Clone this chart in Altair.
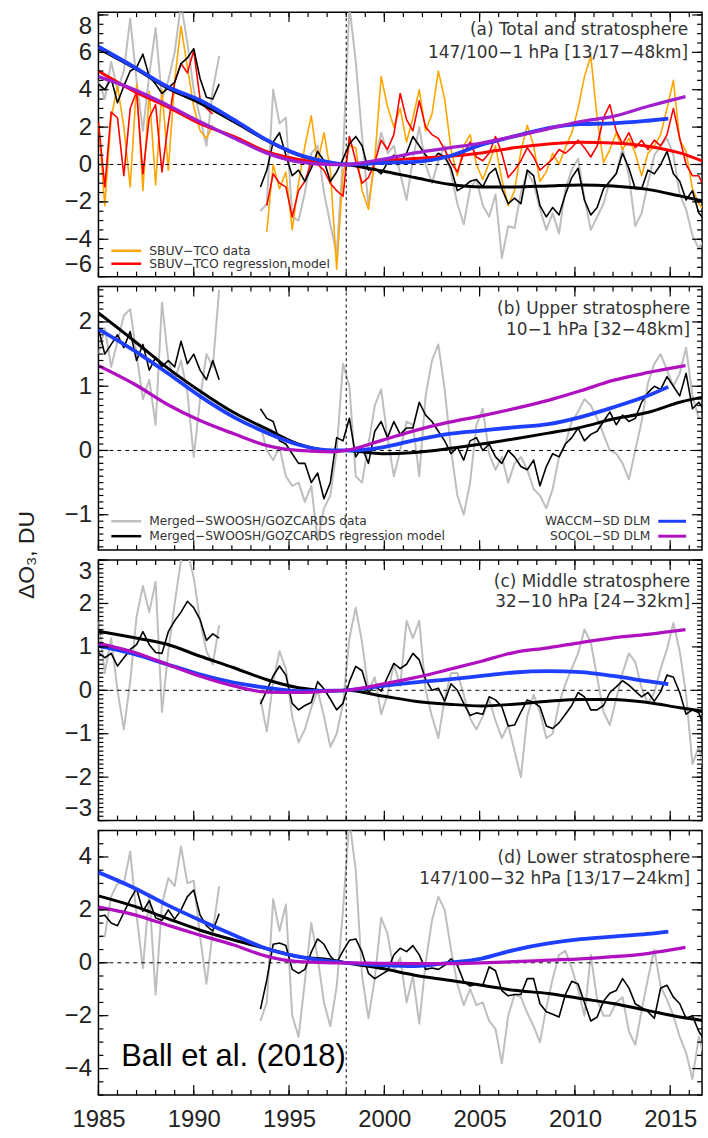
import altair as alt
import pandas as pd

# ---------------------------------------------------------------------------
# Layout constants
# ---------------------------------------------------------------------------
W = 607
STEP = 1.0 / 3.0          # sampling interval of the anomaly series (years)
P1_START = 1985.0         # first record segment
P2_START = 1993.5         # second record segment (after the data gap)
X_DOMAIN = [1985.0, 2016.67]
LABEL_FONT = "Liberation Sans"
NOTE_FONT = "DejaVu Sans"

GRAY = "#BEBEBE"
ORANGE = "#FFA500"
RED = "#FF0000"
BLUE = "#1F3FFF"
PURPLE_A = "#A020D0"
PURPLE = "#B010C0"

# ---------------------------------------------------------------------------
# (a) Total and stratosphere
# ---------------------------------------------------------------------------
a_gray_p1 = [4.5, 3.5, 5.5, 4.0, 5.0, 7.8, 4.5, 1.8, 4.8, 7.3, 3.5, 4.5, 6.0, 8.6, 6.5, 4.0, 2.5, 1.0, 4.0, 5.8]
a_black_p1 = [4.3, 4.0, 4.6, 3.3, 4.2, 5.0, 5.2, 5.9, 4.7, 4.3, 3.8, 4.1, 4.4, 5.4, 5.7, 6.2, 4.6, 3.6, 3.5, 4.3]
a_orange_p1 = [2.2, -2.2, 2.5, 4.2, 2.0, -1.2, 4.3, -1.4, 3.9, -1.1, 4.0, -0.3, 4.5, 7.4, 5.2, 3.1, 1.8, 1.4, 2.1]
a_red_p1 = [2.3, -1.2, 2.8, 2.5, -0.6, 3.0, 3.9, -0.5, 2.5, 3.2, -0.4, 2.2, 4.4, 5.4, 4.9, 6.1, 3.5, 3.0, 2.7]

a_gray_p2 = [-2.5, -2.1, 4.0, 2.2, 2.5, -2.8, -3.0, -1.5, 0.6, 1.0, -1.5, -3.2, -4.8, 0.5,
             8.5, 5.5, 1.5, -2.2, 0.2, 1.7, 0.6, 1.0, -0.5, -1.9,
             0.3, 2.0, 0.0, -1.0, 0.2, 1.0, -0.5, -2.1, -3.2, -1.3,
             -0.8, -2.2, -2.8, -1.6, -5.0, -3.3, -3.4, -1.5, -0.4, -1.0,
             -2.4, -3.5, -2.6, -3.7, -1.3, -0.3, 0.3, -1.8, -3.5, -2.8,
             -2.1, -0.9, -0.5, 0.9, -0.6, -3.3, -2.6, -1.0, 0.5, 1.0,
             1.4, 0.5, -1.6, -2.4, -3.8, -4.5, -3.9]
a_black_p2 = [-1.2, -0.3, 1.2, 1.7, 0.5, -0.6, -0.3, -0.9, -0.2, 0.7, 0.2, -0.9, -0.4, 0.3,
              1.1, 1.5, 1.0, -0.3, -0.2, -0.5, 0.1, 0.5, 0.1, 0.6,
              1.5, 1.0, 0.5, 0.2, 0.6, 0.4, -0.2, -1.4, -1.2, -0.9,
              -0.8, -1.2, -0.5, -0.2, -1.3, -2.1, -1.8, -2.1, -0.3, -0.6,
              -2.2, -2.8, -2.3, -2.7, -1.6, -0.7, -0.2, -1.9, -2.7, -2.3,
              -1.3, -0.9, -0.5, 0.6, -0.2, -1.3, -1.3, -0.3, -0.5, 0.0,
              0.7, -0.5, -0.9, -1.9, -1.4, -2.6, -3.0]
# SBUV series resume one step later than the merged record
a_orange_p2 = [-3.6, 0.0, -1.3, -0.4, -3.5, -1.0, 1.0, 2.6, 0.1, 1.7, -0.3, -5.6, -0.5,
               1.0, 0.9, -1.4, -2.4, 0.3, 4.7, 3.1, 2.0, 3.0, 1.2,
               2.5, 4.0, 1.8, 2.7, 5.0, 3.5, 0.8, -0.6, 1.0, 1.6,
               0.0, -0.8, 0.1, 1.0, -0.8, -2.2, -1.4, 0.7, 2.1, 1.0,
               -0.9, -0.4, 0.6, 0.0, 0.9, 1.7, 3.0, 4.7, 5.8, 2.5,
               0.1, 0.8, 1.7, 0.8, 1.4, 0.6, -0.6, 0.6, 1.0, 1.6,
               3.0, 4.5, 1.3, 0.7, -1.3, -2.1, -2.5]
a_red_p2 = [-2.2, -0.5, -1.0, -1.2, -2.8, -1.4, -0.9, 0.1, 0.0, -0.3, -1.0, -1.4, -1.7,
            1.5, 0.2, -1.0, -0.7, 0.1, 1.3, 0.8, 1.6, 3.8, 2.4,
            1.8, 3.4, 2.0, 1.6, 1.4, 0.8, 0.1, -0.4, 0.6, 1.2,
            0.4, 0.2, 0.6, 1.5, 0.6, -0.7, -0.3, 0.2, 0.9, 0.4,
            -0.3, 0.0, 0.3, 0.8, 0.6, 0.9, 1.3, 0.9, 0.4, 1.0,
            2.5, 3.2, 1.8, 1.1, 1.7, 0.9, 1.3, 0.8, 1.3, 1.0,
            1.6, 3.0, 1.4, 0.0, -0.6, -0.6, -1.4]

# ---------------------------------------------------------------------------
# (b) Upper stratosphere
# ---------------------------------------------------------------------------
b_gray_p1 = [1.5, 1.9, 1.3, 1.7, 2.1, 2.2, 1.5, 0.8, 1.1, 0.4, 2.3, 1.4, 1.1, 1.4, 0.9, -0.1, 0.8, 1.5, 1.3, 2.5]
b_black_p1 = [1.9, 1.5, 1.65, 1.8, 1.6, 1.85, 1.4, 1.65, 1.25, 1.45, 1.3, 1.4, 1.3, 1.7, 1.35, 1.5, 1.25, 1.1, 1.4, 1.1]
b_gray_p2 = [0.4, 0.0, -0.15, 0.05, -0.4, -0.55, -0.5, -0.8, -0.55, -1.4, -0.9, -0.7, 0.0, 1.35,
             1.0, -0.4, -0.5, 0.1, 0.7, 0.95, 0.2, -0.4, 0.0, 0.45,
             0.4, -0.4, 0.85, 1.4, 1.65, 0.95, 0.0, -0.7, -1.0, -0.5,
             0.4, 0.65, -0.05, -0.3, -0.1, -0.5, -0.2, -0.1, -0.3, -0.6,
             -0.7, -0.9, -0.6, -0.1, 0.1, 0.45, 0.6, 0.8, 0.7, 0.5,
             0.25, 0.0, -0.05, -0.2, -0.45, 0.0, 0.45, 1.05, 1.35, 1.5,
             1.25, 1.0, 1.2, 1.6, 0.85, 0.5, 0.5]
b_black_p2 = [0.65, 0.5, 0.45, 0.15, 0.1, -0.05, -0.2, -0.2, -0.5, -0.35, -0.75, -0.5, 0.2, 0.15,
              0.5, -0.1, 0.05, -0.2, 0.3, 0.45, 0.2, 0.45, 0.25, 0.35,
              0.35, 0.75, 0.55, 0.45, 0.3, 0.15, -0.05, 0.05, -0.15, 0.15,
              0.2, 0.0, 0.1, -0.1, -0.2, 0.0, -0.1, -0.25, -0.3, -0.15,
              -0.55, -0.25, -0.05, -0.1, 0.1, 0.2, 0.35, 0.15, 0.25, 0.3,
              0.45, 0.6, 0.4, 0.55, 0.45, 0.5, 0.75, 0.9, 1.0, 0.95,
              1.15, 1.0, 0.85, 1.2, 0.65, 0.75, 0.6]

# ---------------------------------------------------------------------------
# (c) Middle stratosphere
# ---------------------------------------------------------------------------
c_gray_p1 = [1.6, 0.4, 1.2, 0.0, -0.9, 0.2, 1.7, 2.4, 1.8, 2.5, -0.5, 0.9, 2.0, 3.0, 3.2, 2.6, 1.6, 0.9, 0.6, 1.5]
c_black_p1 = [0.87, 0.75, 0.85, 0.56, 0.75, 0.94, 1.05, 1.35, 1.05, 0.87, 0.85, 1.35, 1.6, 1.8, 2.05, 1.9, 1.63, 1.15, 1.3, 1.2]
c_gray_p2 = [-0.2, -0.95, 0.2, 0.9, 0.5, -0.6, -1.2, -0.9, -0.4, 0.0, -0.6, -1.3, -1.0, -0.3,
             1.2, 1.9, 1.1, 0.0, 0.3, -0.55, -0.1, 0.6, 0.1, 1.6,
             1.2, 1.6, 0.0, -0.6, -1.1, -0.2, 0.4, 0.4, -0.1, -0.65,
             -0.9, -0.6, -0.2, -0.7, -1.1, -0.8, -1.4, -2.0, -0.6, -0.1,
             -0.5, -1.1, -1.0, -0.3, 0.15, 0.5, 0.85, 1.4, 1.1, 0.3,
             -0.5, -0.8, -0.2, 0.4, 0.85, 0.65, 0.05, -0.3, -0.05, 0.5,
             0.95, 1.55, 0.9, -0.1, -1.7, -1.3, -2.0]
c_black_p2 = [-0.32, 0.0, 0.33, 0.56, 0.35, -0.3, -0.45, -0.35, -0.28, 0.2, 0.03, -0.2, -0.45, -0.3,
              0.2, 0.55, 0.45, -0.05, 0.1, -0.02, 0.3, 0.62, 0.5, 0.6,
              0.85, 0.7, 0.25, 0.0, 0.05, -0.25, 0.15, 0.0, -0.3, -0.58,
              -0.52, -0.55, -0.15, -0.22, -0.38, -0.82, -0.8, -0.5, -0.22, -0.28,
              -0.38, -0.82, -0.88, -0.75, -0.55, -0.35, -0.05, -0.15, -0.45, -0.45,
              -0.35, -0.05, 0.08, 0.22, 0.12, -0.02, -0.15, -0.05, -0.25, -0.03,
              0.35, 0.3, -0.05, -0.55, -0.45, -0.52, -0.9]

# ---------------------------------------------------------------------------
# (d) Lower stratosphere
# ---------------------------------------------------------------------------
d_gray_p1 = [1.0, 1.0, 2.5, 3.0, 3.0, 4.2, 1.8, -0.2, 2.6, -1.2, 2.2, 3.2, 2.9, 4.4, 3.0, 3.1, 1.0, -0.8, 1.2, 2.9]
d_black_p1 = [1.75, 1.8, 1.5, 1.4, 1.9, 2.4, 2.8, 1.95, 2.35, 1.7, 1.6, 2.0, 1.65, 2.0, 2.5, 2.75, 1.8, 1.4, 1.2, 1.85]
d_gray_p2 = [-2.2, -1.5, 2.4, 1.2, 2.2, -2.0, -2.8, -0.7, 1.5, 0.2, -1.5, -2.4, -0.9, 2.0,
             5.4, 3.5, -0.5, -2.1, -0.6, 1.7, 1.1, -0.3, 0.2, -1.5,
             -0.5, -2.3, 0.0, 1.6, 2.5, 2.0, 0.5, -0.8, -1.6, -1.0,
             -1.6, -1.5, -2.2, -2.5, -3.8, -2.0, -1.2, -1.3, -1.9, -2.4,
             -3.0, -1.7, -0.6, 0.3, 0.45, -0.2, -1.0, -2.0, 0.3, -1.4,
             -2.0, -2.0, -1.5, -1.3, -2.6, -3.1, -1.8, -0.6, 0.5, -0.9,
             -1.4, -2.0, -2.8, -3.4, -4.4, -2.8, -3.7]
d_black_p2 = [-1.75, -0.65, 0.7, 0.75, 0.65, -0.25, -0.4, -0.25, 0.4, 0.9, 0.7, 0.25, 0.0, 0.45,
              0.85, 0.9, 0.4, -0.4, -0.6, -0.45, -0.3, 0.3, 0.55, 0.42,
              0.65, 0.3, -0.25, -0.2, -0.25, -0.1, 0.15, -0.1, -0.7, -0.88,
              -0.8, -0.85, -0.15, -0.3, -1.05, -1.25, -1.2, -1.2, -0.6, -0.6,
              -1.55, -1.85, -1.95, -2.05, -1.2, -0.7, -0.8, -1.5, -2.2, -2.05,
              -1.45, -1.15, -1.05, -0.6, -0.95, -1.55, -1.7, -1.85, -2.1, -0.95,
              -0.85, -1.3, -1.55, -2.1, -2.0, -2.6, -2.95]

# ---------------------------------------------------------------------------
# Smooth trend curves (regression trends and model DLM fits)
# ---------------------------------------------------------------------------
years_trend = [1985, 1986.9, 1988.6, 1990.3, 1992.1, 1993.8, 1995.5, 1997.3, 1998,
               1999.9, 2001.6, 2003.4, 2005.1, 2006.8, 2008.6, 2010.3, 2012.0, 2013.8,
               2015.5, 2016.7]
years_waccm = years_trend[:18] + [2014.9]
years_socol = years_trend[:18] + [2015.8]

a_trend_obs = [6.2, 5.15, 4.1, 3.3, 2.3, 1.3, 0.5, 0.08, 0.0, -0.35, -0.7, -1.06, -1.2, -1.2,
               -1.15, -1.1, -1.15, -1.33, -1.68, -1.95]
a_trend_sbuv = [5.0, 3.9, 3.1, 2.2, 1.5, 0.7, 0.27, 0.04, 0.0, 0.2, 0.32, 0.44, 0.62, 0.89,
                1.1, 1.19, 1.15, 0.98, 0.62, 0.18]
a_waccm = [6.3, 5.2, 4.17, 3.45, 2.4, 1.33, 0.53, 0.09, 0.0, 0.09, 0.14, 0.44, 1.06, 1.5,
           1.95, 2.16, 2.2, 2.34, 2.45]
a_socol = [4.7, 4.0, 3.19, 2.3, 1.42, 0.62, 0.14, 0.0, 0.0, 0.27, 0.62, 0.89, 1.15, 1.5,
           1.91, 2.3, 2.57, 3.1, 3.63]

b_trend_obs = [2.14, 1.7, 1.29, 0.93, 0.59, 0.34, 0.1, 0.0, 0.0, -0.05, -0.03, 0.03, 0.1, 0.18,
               0.27, 0.36, 0.49, 0.59, 0.75, 0.83]
b_waccm = [1.89, 1.55, 1.21, 0.85, 0.52, 0.28, 0.09, 0.0, 0.0, 0.05, 0.16, 0.26, 0.31, 0.36,
           0.41, 0.52, 0.67, 0.85, 0.99]
b_socol = [1.32, 1.03, 0.72, 0.47, 0.26, 0.08, 0.0, -0.02, 0.0, 0.16, 0.31, 0.44, 0.54, 0.65,
           0.78, 0.93, 1.09, 1.21, 1.32]

c_trend_obs = [1.36, 1.21, 1.06, 0.79, 0.52, 0.25, 0.06, -0.01, 0.0, -0.13, -0.25, -0.32, -0.36,
               -0.32, -0.25, -0.21, -0.21, -0.28, -0.4, -0.48]
c_waccm = [1.02, 0.83, 0.6, 0.37, 0.18, 0.06, -0.02, -0.01, 0.0, 0.1, 0.18, 0.25, 0.33, 0.41,
           0.44, 0.42, 0.33, 0.21, 0.14]
c_socol = [1.08, 0.87, 0.6, 0.33, 0.1, -0.04, -0.05, -0.01, 0.0, 0.14, 0.29, 0.48, 0.67, 0.87,
           0.98, 1.1, 1.21, 1.29, 1.4]

d_trend_obs = [2.53, 2.13, 1.68, 1.24, 0.86, 0.54, 0.23, 0.1, 0.0, -0.22, -0.47, -0.66, -0.85,
               -1.04, -1.16, -1.35, -1.54, -1.8, -2.05, -2.18]
d_waccm = [3.42, 2.82, 2.19, 1.62, 1.05, 0.54, 0.23, 0.04, 0.0, -0.09, -0.13, 0.0, 0.16, 0.48,
           0.73, 0.89, 0.99, 1.09, 1.18]
d_socol = [2.1, 1.81, 1.43, 1.05, 0.67, 0.25, 0.04, 0.0, 0.0, -0.02, -0.03, -0.03, 0.0, 0.04,
           0.1, 0.15, 0.23, 0.35, 0.58]


# ---------------------------------------------------------------------------
# Helpers
# ---------------------------------------------------------------------------
def noisy_frame(p1, p2, p2_start=P2_START):
    rows = [{"year": P1_START + i * STEP, "value": v, "seg": 1} for i, v in enumerate(p1)]
    rows += [{"year": p2_start + i * STEP, "value": v, "seg": 2} for i, v in enumerate(p2)]
    return pd.DataFrame(rows)


def smooth_frame(years, vals):
    return pd.DataFrame({"year": years, "value": vals})


def text_layer(txt, x, y, size=17, align="right", font=NOTE_FONT, color="#333", angle=None):
    kw = dict(text=txt, align=align, baseline="middle", fontSize=size, font=font, color=color)
    if angle is not None:
        kw["angle"] = angle
    return alt.Chart(pd.DataFrame({"k": [0]})).mark_text(**kw).encode(
        x=alt.value(x), y=alt.value(y))


def key_line(color, x0, x1, y, width=2.5):
    return alt.Chart(pd.DataFrame({"k": [0]})).mark_rule(color=color, strokeWidth=width).encode(
        x=alt.value(x0), x2=alt.value(x1), y=alt.value(y))


def edge_baseline(top=None, bottom=None):
    """Keep the outermost tick labels inside the frame."""
    conds = []
    if top is not None:
        conds.append({"test": f"datum.value >= {top}", "value": "top"})
    if bottom is not None:
        conds.append({"test": f"datum.value <= {bottom}", "value": "bottom"})
    if not conds:
        return "middle"
    return {"condition": conds, "value": "middle"}


def make_panel(height, y_domain, label_values, baseline, y_major, y_minor,
               noisy, smooth, extras, show_x=False):
    xs = alt.Scale(domain=X_DOMAIN, nice=False, zero=False)
    ys = alt.Scale(domain=y_domain, nice=False, zero=False)
    if show_x:
        xaxis = alt.Axis(values=list(range(1985, 2016, 5)), format="d", labelFontSize=24,
                         labelFont=LABEL_FONT, labelColor="#222", ticks=False, domain=False,
                         grid=False, labelPadding=13, labelFlush=False, title=None)
    else:
        xaxis = None
    yaxis = alt.Axis(values=label_values, labelFontSize=24, labelFont=LABEL_FONT,
                     labelColor="#222", ticks=False, domain=False, grid=False,
                     labelPadding=7, labelFlush=False, labelBaseline=baseline, title=None)
    X = alt.X("year:Q", scale=xs, axis=xaxis)
    Y = alt.Y("value:Q", scale=ys, axis=yaxis)

    layers = []
    for df, color, w in noisy:
        layers.append(alt.Chart(df).mark_line(color=color, strokeWidth=w, clip=True,
                                              strokeJoin="round").encode(
            x=X, y=Y, detail="seg:N"))

    # zero line and 1998 turnaround marker
    layers.append(alt.Chart(pd.DataFrame({"value": [0.0]})).mark_rule(
        color="black", strokeWidth=1, strokeDash=[4, 4]).encode(y=Y))
    layers.append(alt.Chart(pd.DataFrame({"year": [1998.0]})).mark_rule(
        color="black", strokeWidth=1, strokeDash=[3, 3]).encode(x=X))

    for df, color, w in smooth:
        layers.append(alt.Chart(df).mark_line(color=color, strokeWidth=w, clip=True,
                                              interpolate="monotone").encode(x=X, y=Y))

    # inward ticks on all four sides
    xmaj = pd.DataFrame({"year": list(range(1985, 2016, 5))})
    xmin = pd.DataFrame({"year": list(range(1985, 2017))})
    ymaj = pd.DataFrame({"value": y_major})
    ymin = pd.DataFrame({"value": y_minor})
    for df, ln in ((xmaj, 10), (xmin, 5)):
        layers.append(alt.Chart(df).mark_rule(color="black", strokeWidth=1.2).encode(
            x=X, y=alt.value(height), y2=alt.value(height - ln)))
        layers.append(alt.Chart(df).mark_rule(color="black", strokeWidth=1.2).encode(
            x=X, y=alt.value(0), y2=alt.value(ln)))
    for df, ln in ((ymaj, 10), (ymin, 5)):
        layers.append(alt.Chart(df).mark_rule(color="black", strokeWidth=1.2).encode(
            y=Y, x=alt.value(0), x2=alt.value(ln)))
        layers.append(alt.Chart(df).mark_rule(color="black", strokeWidth=1.2).encode(
            y=Y, x=alt.value(W - ln), x2=alt.value(W)))

    layers.extend(extras)
    return alt.layer(*layers).properties(width=W, height=height)


# ---------------------------------------------------------------------------
# Panels
# ---------------------------------------------------------------------------
panel_a = make_panel(
    266, [-6.0, 8.15], [-6, -4, -2, 0, 2, 4, 6, 8], edge_baseline(7.9, -5.9),
    [-6, -4, -2, 0, 2, 4, 6, 8], [-6 + 0.5 * i for i in range(29)],
    noisy=[
        (noisy_frame(a_gray_p1, a_gray_p2), GRAY, 2.0),
        (noisy_frame(a_orange_p1, a_orange_p2, P2_START + STEP), ORANGE, 1.6),
        (noisy_frame(a_red_p1, a_red_p2, P2_START + STEP), RED, 1.6),
        (noisy_frame(a_black_p1, a_black_p2), "black", 1.6),
    ],
    smooth=[
        (smooth_frame(years_trend, a_trend_obs), "black", 3.0),
        (smooth_frame(years_trend, a_trend_sbuv), RED, 3.0),
        (smooth_frame(years_waccm, a_waccm), BLUE, 3.8),
        (smooth_frame(years_socol, a_socol), PURPLE_A, 3.3),
    ],
    extras=[
        text_layer("(a) Total and stratosphere", 593, 18),
        text_layer("147/100\u22121 hPa [13/17\u221248km]", 593, 41),
        key_line(ORANGE, 13, 43, 240),
        key_line(RED, 13, 43, 253),
        text_layer("SBUV\u2212TCO data", 51, 240, size=12.5, align="left"),
        text_layer("SBUV\u2212TCO regression model", 51, 253, size=12.5, align="left"),
    ],
)

panel_b = make_panel(
    265, [-1.55, 2.55], [-1, 0, 1, 2], edge_baseline(),
    [-1, 0, 1, 2], [round(-1.5 + 0.1 * i, 2) for i in range(41)],
    noisy=[
        (noisy_frame(b_gray_p1, b_gray_p2), GRAY, 2.0),
        (noisy_frame(b_black_p1, b_black_p2), "black", 1.6),
    ],
    smooth=[
        (smooth_frame(years_trend, b_trend_obs), "black", 3.0),
        (smooth_frame(years_waccm, b_waccm), BLUE, 3.8),
        (smooth_frame(years_socol, b_socol), PURPLE, 3.3),
    ],
    extras=[
        text_layer("(b) Upper stratosphere", 595, 23),
        text_layer("10\u22121 hPa [32\u221248km]", 595, 44),
        key_line(GRAY, 13, 43, 236),
        key_line("black", 13, 43, 251),
        text_layer("Merged\u2212SWOOSH/GOZCARDS data", 51, 236, size=12.3, align="left"),
        text_layer("Merged\u2212SWOOSH/GOZCARDS regression model", 51, 251, size=12.3, align="left"),
        key_line(BLUE, 563, 591, 236, 3),
        key_line(PURPLE, 563, 591, 251, 3),
        text_layer("WACCM\u2212SD DLM", 555, 236, size=12.3),
        text_layer("SOCOL\u2212SD DLM", 555, 251, size=12.3),
        text_layer("\u0394O\u2083,  DU", -72, 270, size=23, align="center",
                   font=LABEL_FONT, color="#222", angle=270),
    ],
)

panel_c = make_panel(
    262, [-3.0, 3.0], [-3, -2, -1, 0, 1, 2, 3], edge_baseline(2.9, -2.9),
    [-3, -2, -1, 0, 1, 2, 3], [round(-3 + 0.1 * i, 2) for i in range(61)],
    noisy=[
        (noisy_frame(c_gray_p1, c_gray_p2), GRAY, 2.0),
        (noisy_frame(c_black_p1, c_black_p2), "black", 1.6),
    ],
    smooth=[
        (smooth_frame(years_trend, c_trend_obs), "black", 3.0),
        (smooth_frame(years_waccm, c_waccm), BLUE, 3.8),
        (smooth_frame(years_socol, c_socol), PURPLE, 3.3),
    ],
    extras=[
        text_layer("(c) Middle stratosphere", 595, 22),
        text_layer("32\u221210 hPa [24\u221232km]", 595, 42),
    ],
)

panel_d = make_panel(
    266, [-5.0, 5.0], [-4, -2, 0, 2, 4], edge_baseline(),
    [-4, -2, 0, 2, 4], [-5 + 0.5 * i for i in range(21)],
    noisy=[
        (noisy_frame(d_gray_p1, d_gray_p2), GRAY, 2.0),
        (noisy_frame(d_black_p1, d_black_p2), "black", 1.6),
    ],
    smooth=[
        (smooth_frame(years_trend, d_trend_obs), "black", 3.0),
        (smooth_frame(years_waccm, d_waccm), BLUE, 3.8),
        (smooth_frame(years_socol, d_socol), PURPLE, 3.3),
    ],
    extras=[
        text_layer("(d) Lower stratosphere", 595, 28),
        text_layer("147/100\u221232 hPa [13/17\u221224km]", 595, 49),
        text_layer("Ball et al. (2018)", 23, 228, size=31, align="left",
                   font=LABEL_FONT, color="black"),
    ],
    show_x=True,
)

chart = alt.vconcat(panel_a, panel_b, panel_c, panel_d, spacing=10, bounds="flush").properties(
    padding={"left": 15, "top": 7, "right": 4, "bottom": 0}
).configure_view(stroke="black", strokeWidth=1.5)

chart.save("out.html", embed_options={"renderer": "svg", "actions": False})
